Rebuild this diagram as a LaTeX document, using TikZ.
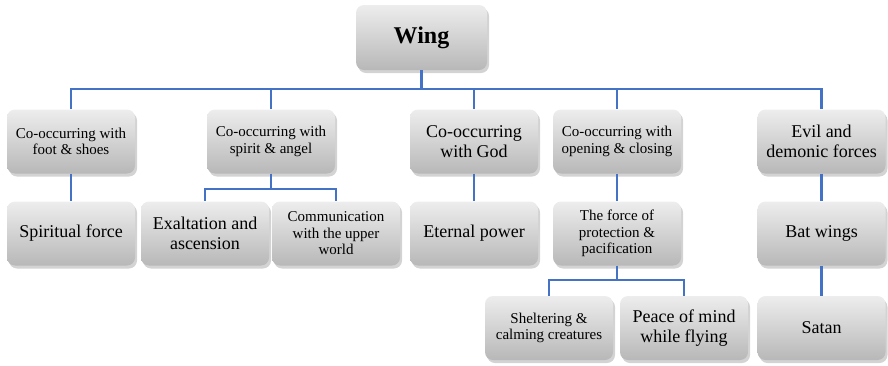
\documentclass[tikz,border=0pt]{standalone}
\usepackage{fontspec}
\setmainfont{Liberation Serif}
\usetikzlibrary{positioning}
\usetikzlibrary{shadows}
\definecolor{linkblue}{RGB}{68,114,196}
\tikzset{blk/.style={rounded corners=8pt, minimum width=128pt, minimum height=64pt, inner sep=2pt, align=center, top color=black!7, bottom color=black!28, draw=none, drop shadow={shadow xshift=2pt, shadow yshift=-3pt, opacity=0.35}, font=\fontsize{15}{16.5}\selectfont}}
\tikzset{big/.style={font=\fontsize{18}{20}\selectfont}}
\tikzset{ln/.style={draw=linkblue, line width=2.2pt}}

\begin{document}
\begin{tikzpicture}[x=1pt, y=-1pt, on grid]
    \useasboundingbox (0,0) rectangle (888,365);

    \node[blk, minimum width=131pt, minimum height=65pt, font=\fontsize{24}{26}\selectfont\bfseries] (wing) at (421.5, 37.5) {Wing};

    \node[blk] (foot) at (71, 141.5) {Co-occurring with\\foot \& shoes};
    \node[blk] (spirit) at (271, 141.5) {Co-occurring with\\spirit \& angel};
    \node[blk, big] (god) at (474, 141.5) {Co-occurring\\with God};
    \node[blk] (open) at (617, 141.5) {Co-occurring with\\opening \& closing};
    \node[blk, big] (evil) at (821.5, 141.5) {Evil and\\demonic forces};

    \node[blk, big, below=92pt of foot] (force) {Spiritual force};
    \node[blk, big] (exalt) at (205, 233.5) {Exaltation and\\ascension};
    \node[blk] (comm) at (336, 233.5) {Communication\\with the upper\\world};
    \node[blk, big, below=92pt of god] (eternal) {Eternal power};
    \node[blk, below=92pt of open] (prot) {The force of\\protection \&\\pacification};
    \node[blk, big, below=92pt of evil] (bat) {Bat wings};

    \node[blk] (shelter) at (549, 328) {Sheltering \&\\calming creatures};
    \node[blk, big, right=135pt of shelter] (peace) {Peace of mind\\while flying};
    \node[blk, big, below=94.5pt of bat] (satan) {Satan};

    \draw[ln] (wing.south) -- ++(0,19) -| (foot.north);
    \draw[ln] (wing.south) -- ++(0,19) -| (spirit.north);
    \draw[ln] (wing.south) -- ++(0,19) -| (god.north);
    \draw[ln] (wing.south) -- ++(0,19) -| (open.north);
    \draw[ln] (wing.south) -- ++(0,19) -| (evil.north);

    \draw[ln] (foot) -- (force);
    \draw[ln] (spirit.south) -- ++(0,15) -| (exalt.north);
    \draw[ln] (spirit.south) -- ++(0,15) -| (comm.north);
    \draw[ln] (god) -- (eternal);
    \draw[ln] (open) -- (prot);
    \draw[ln] (evil) -- (bat);

    \draw[ln] (prot.south) -- ++(0,14) -| (shelter.north);
    \draw[ln] (prot.south) -- ++(0,14) -| (peace.north);
    \draw[ln] (bat) -- (satan);
\end{tikzpicture}
\end{document}
